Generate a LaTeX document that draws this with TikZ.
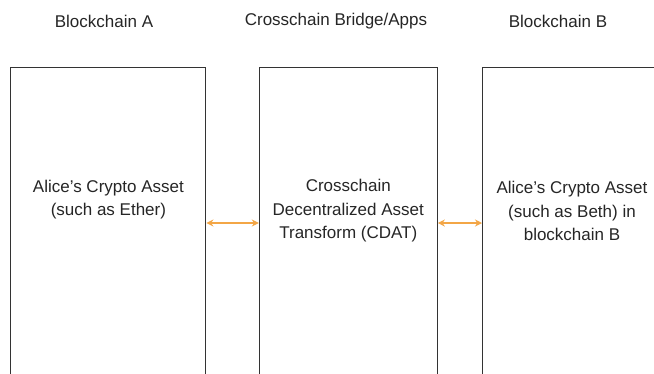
\documentclass[tikz,border=0pt]{standalone}
\usepackage{fontspec}
\setmainfont{Liberation Sans}
\usetikzlibrary{arrows.meta}
\definecolor{linegray}{HTML}{333333}
\definecolor{textgray}{HTML}{262626}
\definecolor{linkorange}{HTML}{F3A646}
\tikzset{
	chainbox/.style={draw=linegray,line width=1pt,minimum width=#1,minimum height=312pt,inner sep=0pt},
	boxtext/.style={text=textgray,align=center,font=\fontsize{17}{23.5}\selectfont},
	link/.style={linkorange,line width=1.3pt,{Stealth[length=7pt,width=7pt]}-{Stealth[length=7pt,width=7pt]}}
}
\begin{document}
\begin{tikzpicture}[x=1pt,y=-1pt]
	\clip (0,0) rectangle (654,373);
	\fill[white] (0,0) rectangle (654,373);
		% column headings
		\node[boxtext] (headA) at (104,21) {Blockchain A};
		\node[boxtext] (headM) at (336,21) {Crosschain Bridge/Apps};
		\node[boxtext] (headB) at (558,21) {Blockchain B};
		% the three columns
		\node[chainbox=195pt] (chainA) at (108.4,223) {};
		\node[chainbox=178pt] (bridge) at (348.3,223) {};
		\node[chainbox=179pt] (chainB) at (572,223) {};
		\node[boxtext] (assetA) at (108.4,199.5) {Alice's Crypto Asset\\(such as Ether)};
		\node[boxtext] (cdat) at (348.3,211) {Crosschain\\Decentralized Asset\\Transform (CDAT)};
		\node[boxtext] (assetB) at (572,211) {Alice's Crypto Asset\\(such as Beth) in\\blockchain B};
		% links between them
		\draw[link] (chainA.east) -- (bridge.west);
		\draw[link] (bridge.east) -- (chainB.west);
	\end{tikzpicture}
\end{document}
